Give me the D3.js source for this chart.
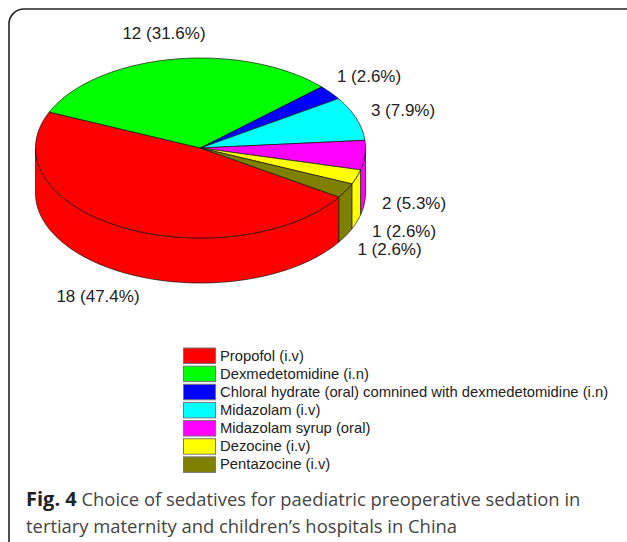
<!DOCTYPE html>
<html><head><meta charset="utf-8">
<script src="https://cdn.jsdelivr.net/npm/d3@7"></script>
<style>html,body{margin:0;padding:0;background:#fff}svg{display:block}</style>
</head><body><svg id="c" width="627" height="542"></svg>
<script>
const categories=["Propofol (i.v)","Dexmedetomidine (i.n)","Chloral hydrate (oral) comnined with dexmedetomidine (i.n)","Midazolam (i.v)","Midazolam syrup (oral)","Dezocine (i.v)","Pentazocine (i.v)"];
const counts=[18,12,1,3,2,1,1];
const percents=["47.4","31.6","2.6","7.9","5.3","2.6","2.6"];
const colors=["#ff0000","#00ff00","#0000ff","#00ffff","#ff00ff","#ffff00","#808000"];
const captionLines=[["Fig. 4"," Choice of sedatives for paediatric preoperative sedation in"],["","tertiary maternity and children\u2019s hospitals in China"]];
// label centres relative to the pie centre
const labelOffsets=[[-102.5,148],[-36.5,-115],[168.5,-72],[202.5,-38],[213.5,55],[203.5,83],[189,101]];

const svg=d3.select("#c");
const cx=200.5,cy=148,rx=165,ry=90,depth=45;
const rad=d=>d*Math.PI/180;
const TAU=2*Math.PI;
const pie=d3.pie().sort(null).startAngle(rad(123)).endAngle(rad(483));
const arcs=pie(counts);
const px=a=>cx+rx*Math.sin(a), py=a=>cy-ry*Math.cos(a);

svg.append("path").attr("d","M9,542V24a15,15 0 0 1 15,-15H627").attr("fill","none").attr("stroke","#222").attr("stroke-width",1.6);

const line=d3.line();
function samples(a0,a1,dy){const n=Math.max(2,Math.ceil((a1-a0)/rad(1)));return d3.range(n+1).map(i=>{const a=a0+(a1-a0)*i/n;return [px(a),py(a)+dy];});}
const stroke=g=>g.attr("stroke","#111").attr("stroke-width",.7).attr("stroke-linejoin","round");

// side wall (front half only); a slice may wrap past a full turn
const g=svg.append("g");
arcs.forEach((d,i)=>{
  [0,TAU].forEach(shift=>{
    const a0=Math.max(d.startAngle-shift,rad(90)), a1=Math.min(d.endAngle-shift,rad(270));
    if(a1<=a0) return;
    const pts=samples(a0,a1,0).concat(samples(a0,a1,depth).reverse());
    g.append("path").attr("d",line(pts)+"Z").attr("fill",colors[i]).call(stroke);
  });
});
// top face
arcs.forEach((d,i)=>{
  const pts=[[cx,cy]].concat(samples(d.startAngle,d.endAngle,0));
  g.append("path").attr("d",line(pts)+"Z").attr("fill",colors[i]).call(stroke);
});
// value labels
arcs.forEach((d,i)=>{
  svg.append("text").attr("x",cx+labelOffsets[i][0]).attr("y",cy+labelOffsets[i][1]).attr("text-anchor","middle").attr("dominant-baseline","central")
    .attr("font-family","Liberation Sans").attr("font-size",17).attr("fill","#222").text(`${counts[i]} (${percents[i]}%)`);
});
// legend
const ly=d3.scaleBand().domain(categories).range([346.5,473.5]);
const lg=svg.selectAll("g.l").data(categories).join("g").attr("class","l").attr("transform",d=>`translate(0,${ly(d)})`);
lg.append("rect").attr("x",183.5).attr("y",1.5).attr("width",32).attr("height",15.5).attr("fill",(d,i)=>colors[i]).attr("stroke","#777").attr("stroke-width",1);
lg.append("text").attr("x",220).attr("y",9).attr("dominant-baseline","central").attr("font-family","Liberation Sans").attr("font-size",14.8).attr("fill","#222").text(d=>d);
// caption
captionLines.forEach((l,i)=>{
  const t=svg.append("text").attr("x",26).attr("y",506+i*27).attr("font-family","Open Sans").attr("font-size",18.4).attr("fill","#444");
  if(l[0]) t.append("tspan").attr("font-weight","bold").attr("font-size",20).attr("fill","#222").text(l[0]);
  t.append("tspan").text(l[1]);
});
</script></body></html>
